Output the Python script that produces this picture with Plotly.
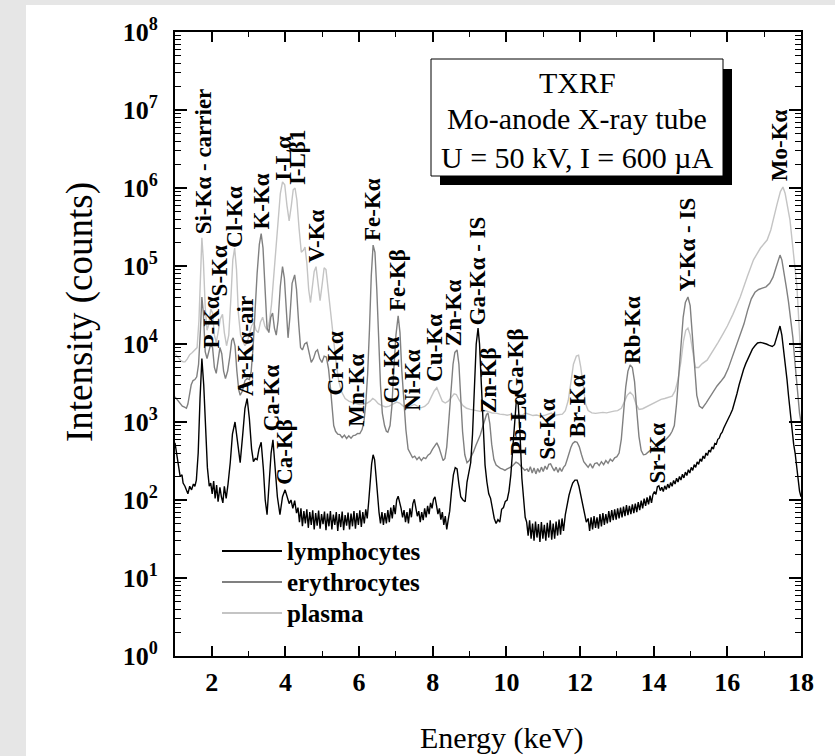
import plotly.graph_objects as go

# ---------------- data (energy keV, counts) ----------------
lymphocytes = [
    (1.00, 540), (1.04, 400), (1.09, 250), (1.14, 200), (1.19, 210), (1.22, 165), (1.27, 150), (1.31, 135),
    (1.35, 120), (1.40, 150), (1.45, 135), (1.50, 160), (1.54, 150), (1.58, 180), (1.63, 400), (1.68, 2000),
    (1.73, 6500), (1.78, 3000), (1.83, 700), (1.88, 260), (1.93, 150), (1.97, 165), (2.01, 120), (2.05, 175),
    (2.09, 105), (2.13, 155), (2.17, 95), (2.22, 145), (2.26, 110), (2.30, 92), (2.34, 150), (2.39, 105),
    (2.44, 160), (2.50, 300), (2.56, 700), (2.63, 1000), (2.69, 600), (2.77, 300), (2.84, 700), (2.90, 1500),
    (2.96, 2000), (3.02, 1100), (3.08, 450), (3.13, 310), (3.18, 340), (3.23, 330), (3.28, 450), (3.34, 550),
    (3.40, 250), (3.45, 100), (3.50, 65), (3.55, 140), (3.61, 400), (3.66, 590), (3.72, 250), (3.78, 110),
    (3.85, 65), (3.92, 110), (3.99, 135), (4.04, 110), (4.10, 90), (4.15, 100), (4.20, 78), (4.25, 98),
    (4.30, 68), (4.34, 80), (4.38, 52), (4.42, 78), (4.46, 46), (4.50, 72), (4.54, 50), (4.58, 76),
    (4.62, 44), (4.66, 70), (4.70, 48), (4.74, 74), (4.78, 42), (4.82, 68), (4.86, 47), (4.90, 73),
    (4.94, 43), (4.98, 66), (5.02, 49), (5.06, 71), (5.10, 41), (5.14, 67), (5.18, 46), (5.22, 72),
    (5.26, 42), (5.30, 65), (5.34, 48), (5.38, 70), (5.42, 40), (5.46, 66), (5.50, 45), (5.54, 71),
    (5.58, 41), (5.62, 64), (5.66, 47), (5.70, 69), (5.74, 42), (5.78, 67), (5.82, 46), (5.86, 72),
    (5.90, 43), (5.94, 68), (5.98, 48), (6.02, 74), (6.06, 45), (6.10, 70), (6.14, 50), (6.18, 76),
    (6.22, 58), (6.26, 95), (6.30, 170), (6.34, 290), (6.38, 380), (6.42, 330), (6.46, 200), (6.50, 110),
    (6.54, 70), (6.58, 50), (6.62, 70), (6.66, 48), (6.70, 68), (6.74, 50), (6.78, 74), (6.82, 52),
    (6.86, 80), (6.90, 58), (6.94, 86), (6.98, 66), (7.02, 100), (7.06, 112), (7.10, 95), (7.14, 78),
    (7.18, 60), (7.22, 74), (7.26, 52), (7.30, 70), (7.34, 50), (7.38, 78), (7.42, 60), (7.46, 90),
    (7.50, 102), (7.54, 80), (7.58, 62), (7.62, 72), (7.66, 52), (7.70, 70), (7.74, 55), (7.78, 78),
    (7.82, 60), (7.86, 84), (7.90, 66), (7.94, 92), (7.98, 78), (8.02, 102), (8.06, 110), (8.10, 86),
    (8.14, 66), (8.18, 78), (8.22, 56), (8.26, 70), (8.30, 48), (8.34, 62), (8.38, 42), (8.42, 56),
    (8.46, 72), (8.51, 130), (8.56, 210), (8.61, 260), (8.66, 250), (8.71, 160), (8.76, 110), (8.82, 100),
    (8.88, 95), (8.93, 170), (8.98, 240), (9.03, 300), (9.08, 700), (9.13, 3000), (9.18, 10000), (9.23, 16000),
    (9.27, 10000), (9.32, 3000), (9.37, 800), (9.42, 280), (9.47, 170), (9.52, 120), (9.57, 105), (9.62, 78),
    (9.67, 58), (9.72, 50), (9.77, 56), (9.82, 52), (9.87, 76), (9.92, 80), (9.97, 96), (10.02, 100),
    (10.07, 130), (10.12, 210), (10.17, 450), (10.22, 1200), (10.27, 1900), (10.32, 1700), (10.37, 700), (10.42, 190),
    (10.47, 85), (10.51, 60), (10.55, 52), (10.59, 35), (10.63, 55), (10.67, 32), (10.71, 50), (10.75, 30),
    (10.79, 53), (10.83, 33), (10.87, 49), (10.91, 29), (10.95, 52), (10.99, 32), (11.03, 48), (11.07, 30),
    (11.11, 51), (11.15, 33), (11.19, 55), (11.23, 31), (11.27, 50), (11.31, 32), (11.35, 53), (11.39, 35),
    (11.43, 56), (11.47, 36), (11.51, 58), (11.55, 40), (11.60, 65), (11.65, 90), (11.70, 115), (11.75, 140),
    (11.80, 165), (11.86, 180), (11.92, 180), (11.97, 150), (12.02, 115), (12.07, 90), (12.12, 70), (12.17, 52),
    (12.22, 58), (12.26, 40), (12.30, 60), (12.34, 42), (12.38, 62), (12.42, 44), (12.46, 60), (12.50, 43),
    (12.54, 66), (12.58, 46), (12.62, 68), (12.66, 48), (12.70, 66), (12.74, 50), (12.78, 72), (12.82, 52),
    (12.86, 74), (12.90, 55), (12.94, 76), (12.98, 56), (13.02, 78), (13.06, 58), (13.10, 80), (13.14, 60),
    (13.18, 82), (13.22, 62), (13.26, 86), (13.30, 64), (13.34, 84), (13.38, 66), (13.42, 88), (13.46, 68),
    (13.50, 90), (13.54, 70), (13.58, 94), (13.62, 74), (13.66, 98), (13.70, 78), (13.74, 104), (13.78, 84),
    (13.82, 108), (13.86, 88), (13.90, 114), (13.94, 92), (13.98, 118), (14.02, 128), (14.06, 118), (14.10, 148),
    (14.14, 152), (14.18, 132), (14.22, 146), (14.26, 128), (14.30, 152), (14.34, 136), (14.38, 160), (14.42, 142),
    (14.46, 168), (14.50, 150), (14.54, 178), (14.58, 160), (14.62, 190), (14.66, 170), (14.70, 200), (14.74, 180),
    (14.78, 214), (14.82, 192), (14.86, 228), (14.90, 206), (14.94, 244), (14.98, 222), (15.02, 262), (15.06, 240),
    (15.10, 284), (15.14, 262), (15.18, 308), (15.22, 286), (15.26, 336), (15.30, 312), (15.34, 366), (15.38, 340),
    (15.42, 400), (15.46, 372), (15.50, 436), (15.54, 410), (15.58, 480), (15.62, 450), (15.66, 530), (15.70, 520),
    (15.74, 600), (15.78, 620), (15.82, 700), (15.86, 740), (15.90, 830), (15.94, 900), (15.98, 1000), (16.02, 1100),
    (16.08, 1250), (16.14, 1450), (16.20, 1800), (16.26, 2300), (16.32, 3000), (16.38, 3800), (16.44, 4700), (16.50, 5600),
    (16.56, 6500), (16.62, 7600), (16.68, 8600), (16.75, 9500), (16.82, 10300), (16.90, 10500), (16.98, 10300), (17.06, 10000),
    (17.14, 9600), (17.22, 9300), (17.28, 9800), (17.33, 12000), (17.38, 15000), (17.43, 17000), (17.48, 13000), (17.53, 8500),
    (17.57, 6200), (17.62, 3500), (17.66, 2200), (17.70, 1430), (17.75, 800), (17.80, 520), (17.84, 400), (17.88, 280),
    (17.92, 180), (17.96, 130), (18.00, 110),
]

erythrocytes = [
    (1.00, 2100), (1.05, 1950), (1.10, 1800), (1.15, 1700), (1.20, 1600), (1.26, 1550), (1.31, 1500), (1.35, 1700),
    (1.39, 2300), (1.44, 3000), (1.49, 3400), (1.54, 3500), (1.59, 3800), (1.64, 5500), (1.69, 15000), (1.73, 40000),
    (1.77, 25000), (1.82, 8000), (1.87, 6500), (1.92, 8000), (1.97, 10000), (2.02, 9000), (2.07, 5000), (2.12, 4200),
    (2.17, 6000), (2.22, 9000), (2.27, 7500), (2.32, 4500), (2.37, 3600), (2.43, 4500), (2.49, 7000), (2.54, 11000),
    (2.58, 12000), (2.63, 9500), (2.68, 4500), (2.73, 2600), (2.77, 2200), (2.83, 2500), (2.90, 3400), (2.96, 3600),
    (3.02, 3500), (3.07, 4500), (3.12, 9000), (3.17, 25000), (3.23, 80000), (3.29, 190000), (3.34, 260000), (3.39, 170000),
    (3.44, 60000), (3.50, 16000), (3.55, 14000), (3.60, 22000), (3.65, 25000), (3.70, 16000), (3.75, 13000), (3.80, 20000),
    (3.86, 55000), (3.92, 98000), (3.97, 70000), (4.02, 25000), (4.07, 12000), (4.12, 22000), (4.18, 60000), (4.25, 77000),
    (4.30, 50000), (4.36, 18000), (4.41, 9000), (4.46, 8400), (4.52, 10000), (4.58, 10500), (4.64, 7500), (4.70, 5800),
    (4.76, 6500), (4.82, 8000), (4.87, 8400), (4.93, 6500), (4.99, 5800), (5.05, 7000), (5.11, 6800), (5.17, 4800),
    (5.22, 2800), (5.27, 1300), (5.31, 900), (5.36, 760), (5.42, 700), (5.48, 690), (5.54, 630), (5.60, 680),
    (5.66, 615), (5.72, 665), (5.78, 620), (5.84, 670), (5.90, 680), (5.96, 715), (6.02, 710), (6.08, 800),
    (6.13, 1000), (6.18, 1700), (6.23, 4000), (6.28, 15000), (6.33, 75000), (6.38, 185000), (6.43, 150000), (6.48, 50000),
    (6.53, 11000), (6.58, 3000), (6.63, 1300), (6.69, 900), (6.74, 760), (6.78, 740), (6.84, 900), (6.89, 1600),
    (6.94, 4500), (7.00, 13000), (7.06, 23000), (7.11, 14000), (7.16, 4500), (7.21, 1800), (7.27, 800), (7.33, 450),
    (7.39, 390), (7.45, 350), (7.51, 365), (7.57, 330), (7.63, 355), (7.69, 320), (7.75, 350), (7.81, 340),
    (7.87, 375), (7.93, 395), (7.99, 445), (8.05, 500), (8.11, 540), (8.17, 470), (8.23, 370), (8.28, 320),
    (8.33, 340), (8.38, 480), (8.44, 1100), (8.50, 2800), (8.55, 5500), (8.60, 7800), (8.66, 8400), (8.71, 5500),
    (8.76, 2200), (8.81, 750), (8.87, 380), (8.93, 300), (8.99, 320), (9.05, 360), (9.11, 420), (9.17, 500),
    (9.23, 580), (9.29, 680), (9.35, 850), (9.41, 1050), (9.46, 1250), (9.50, 1300), (9.55, 950), (9.60, 520),
    (9.66, 330), (9.72, 280), (9.78, 265), (9.84, 255), (9.90, 248), (9.96, 240), (10.02, 250), (10.08, 258),
    (10.14, 268), (10.20, 285), (10.26, 305), (10.32, 295), (10.38, 275), (10.44, 255), (10.50, 240), (10.56, 250),
    (10.60, 230), (10.65, 268), (10.70, 222), (10.75, 258), (10.80, 216), (10.85, 254), (10.90, 226), (10.95, 264),
    (11.00, 232), (11.05, 272), (11.10, 246), (11.15, 286), (11.20, 290), (11.25, 260), (11.30, 236), (11.35, 264),
    (11.40, 226), (11.45, 258), (11.50, 232), (11.55, 262), (11.60, 280), (11.65, 330), (11.70, 400), (11.75, 470),
    (11.80, 530), (11.86, 560), (11.92, 550), (11.98, 480), (12.04, 380), (12.10, 310), (12.16, 285), (12.22, 262),
    (12.28, 292), (12.34, 256), (12.40, 294), (12.46, 300), (12.52, 276), (12.58, 310), (12.64, 284), (12.70, 320),
    (12.76, 296), (12.82, 334), (12.88, 314), (12.94, 348), (13.00, 360), (13.06, 400), (13.12, 600), (13.18, 1300),
    (13.24, 2800), (13.30, 4500), (13.36, 5400), (13.42, 5000), (13.48, 3300), (13.54, 1400), (13.60, 650), (13.66, 430),
    (13.72, 380), (13.78, 385), (13.84, 410), (13.90, 435), (13.96, 455), (14.02, 470), (14.08, 510), (14.14, 550),
    (14.20, 555), (14.26, 560), (14.32, 590), (14.38, 630), (14.44, 680), (14.50, 760), (14.56, 900), (14.62, 1700),
    (14.68, 4000), (14.74, 10000), (14.80, 22000), (14.86, 34000), (14.93, 40000), (14.99, 31000), (15.05, 14000), (15.11, 5000),
    (15.17, 2200), (15.24, 1600), (15.32, 1500), (15.42, 1750), (15.52, 2100), (15.62, 2500), (15.72, 2900), (15.82, 3300),
    (15.92, 3800), (16.02, 4800), (16.12, 6500), (16.22, 8800), (16.35, 12500), (16.45, 18000), (16.55, 27000), (16.65, 38000),
    (16.75, 46000), (16.85, 50000), (16.95, 52000), (17.05, 54000), (17.15, 60000), (17.24, 72000), (17.32, 95000), (17.38, 120000),
    (17.43, 138000), (17.48, 120000), (17.54, 75000), (17.60, 54000), (17.66, 35000), (17.72, 20000), (17.78, 12000), (17.84, 5500),
    (17.90, 2500), (17.96, 1300), (18.00, 1000),
]

plasma = [
    (1.00, 7500), (1.05, 7000), (1.10, 6500), (1.16, 6100), (1.22, 5900), (1.27, 5900), (1.33, 6400), (1.40, 7300),
    (1.47, 7800), (1.54, 8300), (1.60, 9000), (1.65, 20000), (1.69, 80000), (1.73, 230000), (1.77, 120000), (1.82, 30000),
    (1.87, 15000), (1.92, 18000), (1.97, 28000), (2.02, 25000), (2.07, 13000), (2.12, 10500), (2.17, 14000), (2.23, 21000),
    (2.29, 24000), (2.34, 14000), (2.40, 9500), (2.46, 13000), (2.52, 40000), (2.57, 120000), (2.62, 170000), (2.67, 90000),
    (2.72, 25000), (2.78, 13000), (2.84, 11000), (2.90, 9500), (2.96, 10500), (3.02, 14000), (3.08, 17000), (3.14, 19000),
    (3.20, 15000), (3.26, 14000), (3.32, 19000), (3.38, 22000), (3.44, 17000), (3.50, 15000), (3.56, 19000), (3.62, 32000),
    (3.68, 70000), (3.74, 170000), (3.80, 420000), (3.86, 850000), (3.92, 1200000), (3.98, 1100000), (4.04, 600000), (4.10, 380000),
    (4.16, 600000), (4.21, 950000), (4.26, 1000000), (4.31, 700000), (4.37, 300000), (4.43, 150000), (4.49, 160000), (4.53, 175000),
    (4.58, 110000), (4.63, 50000), (4.68, 34000), (4.73, 50000), (4.78, 85000), (4.83, 98000), (4.88, 60000), (4.94, 36000),
    (5.00, 60000), (5.05, 95000), (5.10, 90000), (5.16, 50000), (5.22, 24000), (5.27, 16000), (5.32, 9500), (5.38, 5500),
    (5.45, 3300), (5.53, 2400), (5.62, 2000), (5.72, 1850), (5.82, 1780), (5.92, 1720), (6.02, 1680), (6.12, 1700),
    (6.22, 1750), (6.30, 1850), (6.37, 2000), (6.44, 1900), (6.52, 1720), (6.62, 1620), (6.72, 1560), (6.82, 1600),
    (6.92, 1700), (7.02, 1800), (7.10, 1750), (7.20, 1600), (7.30, 1520), (7.40, 1580), (7.50, 1680), (7.58, 1600),
    (7.68, 1520), (7.78, 1580), (7.88, 1750), (7.96, 2100), (8.04, 2500), (8.11, 2750), (8.18, 2300), (8.26, 1850),
    (8.34, 1750), (8.42, 1850), (8.50, 2050), (8.58, 2300), (8.64, 2250), (8.72, 1900), (8.82, 1620), (8.92, 1500),
    (9.02, 1450), (9.12, 1420), (9.22, 1400), (9.32, 1360), (9.42, 1400), (9.52, 1350), (9.62, 1300), (9.72, 1300),
    (9.82, 1260), (9.92, 1250), (10.02, 1220), (10.12, 1250), (10.22, 1210), (10.32, 1250), (10.42, 1220), (10.52, 1300),
    (10.62, 1250), (10.72, 1210), (10.82, 1230), (10.92, 1190), (11.02, 1210), (11.12, 1260), (11.22, 1300), (11.32, 1220),
    (11.42, 1230), (11.52, 1260), (11.60, 1400), (11.68, 1900), (11.75, 3200), (11.82, 5500), (11.90, 7000), (11.96, 7200),
    (12.02, 5000), (12.08, 2800), (12.15, 1700), (12.22, 1400), (12.32, 1310), (12.42, 1290), (12.52, 1310), (12.62, 1330),
    (12.72, 1310), (12.82, 1350), (12.92, 1380), (13.02, 1400), (13.12, 1500), (13.20, 1800), (13.28, 2200), (13.36, 2400),
    (13.44, 2200), (13.52, 1700), (13.60, 1450), (13.70, 1480), (13.80, 1560), (13.90, 1660), (14.00, 1760), (14.10, 1860),
    (14.20, 1950), (14.30, 2000), (14.40, 2060), (14.50, 2150), (14.58, 2500), (14.66, 3500), (14.74, 6000), (14.81, 11000),
    (14.87, 15000), (14.93, 16000), (14.99, 13000), (15.06, 7500), (15.13, 5000), (15.22, 5000), (15.32, 5600), (15.45, 6200),
    (15.60, 8000), (15.75, 10500), (15.89, 13700), (16.00, 17000), (16.15, 24000), (16.35, 40000), (16.55, 75000), (16.71, 120000),
    (16.90, 170000), (17.08, 215000), (17.18, 290000), (17.26, 400000), (17.35, 620000), (17.44, 900000), (17.51, 1030000), (17.57, 850000),
    (17.64, 560000), (17.70, 390000), (17.78, 170000), (17.84, 90000), (17.89, 54000), (17.94, 20000), (18.00, 6000),
]

series_names = ["lymphocytes", "erythrocytes", "plasma"]
series_colors = ["#000000", "#808080", "#c4c4c4"]

# peak labels: (text, energy keV, log10 intensity at the start of the text)
peak_labels = [
    ("Si-Kα - carrier", 1.76, 5.38), ("P-Kα", 2.00, 3.92), ("S-Kα", 2.22, 4.59), ("Cl-Kα", 2.63, 5.21),
    ("Ar-Kα-air", 2.93, 3.31), ("K-Kα", 3.36, 5.44), ("Ca-Kα", 3.63, 2.86), ("Ca-Kβ", 3.99, 2.17),
    ("I-Lα", 3.96, 6.06), ("I-Lβ1", 4.31, 6.01), ("V-Kα", 4.86, 5.01), ("Cr-Kα", 5.35, 3.31),
    ("Mn-Kα", 5.94, 2.92), ("Fe-Kα", 6.38, 5.29), ("Co-Kα", 6.87, 3.21), ("Fe-Kβ", 7.06, 4.40),
    ("Ni-Kα", 7.44, 3.12), ("Cu-Kα", 8.06, 3.49), ("Zn-Kα", 8.55, 3.94), ("Ga-Kα - IS", 9.20, 4.22),
    ("Zn-Kβ", 9.53, 3.09), ("Pb-Lα", 10.32, 2.54), ("Ga-Kβ", 10.26, 3.32), ("Se-Kα", 11.13, 2.49),
    ("Br-Kα", 11.92, 2.77), ("Rb-Kα", 13.44, 3.72), ("Sr-Kα", 14.09, 2.18), ("Y-Kα - IS", 14.91, 4.65),
    ("Mo-Kα", 17.40, 6.06),
]

info_lines = ["TXRF", "Mo-anode X-ray tube", "U = 50 kV, I = 600 µA"]

x_ticks = [2, 4, 6, 8, 10, 12, 14, 16, 18]
y_exponents = [0, 1, 2, 3, 4, 5, 6, 7, 8]

# ---------------- figure ----------------
SERIF = "Liberation Serif"
W, H = 835, 756
ML, MR, MT, MB = 175, 34, 32, 100
PW, PH = W - ML - MR, H - MT - MB


def px_x(px):
    return (px - ML) / PW


def px_y(py):
    return (H - MB - py) / PH


fig = go.Figure()
series_data = [lymphocytes, erythrocytes, plasma]
for idx in [2, 1, 0]:
    data = series_data[idx]
    fig.add_trace(go.Scatter(
        x=[d[0] for d in data], y=[d[1] for d in data], mode="lines",
        name=series_names[idx], line=dict(color=series_colors[idx], width=1.4),
        showlegend=False, hoverinfo="skip",
    ))

minor_vals = [m * 10 ** e for e in range(0, 8) for m in range(2, 10)]

fig.update_xaxes(
    range=[1, 18], tickmode="array", tickvals=x_ticks, ticktext=["<b>%d</b>" % t for t in x_ticks],
    ticks="inside", ticklen=10, tickwidth=1.5, tickcolor="black",
    minor=dict(tickmode="array", tickvals=[3, 5, 7, 9, 11, 13, 15, 17], ticks="inside", ticklen=5,
               tickwidth=1.3, tickcolor="black", showgrid=False),
    showline=True, linewidth=2, linecolor="black", mirror="allticks",
    showgrid=False, zeroline=False,
    tickfont=dict(family=SERIF, size=26, color="black"),
    ticklabelstandoff=2,
)
fig.update_yaxes(
    type="log", range=[0, 8], tickmode="array", tickvals=[10 ** e for e in y_exponents],
    ticktext=["<b>10<sup>%d</sup></b>" % e for e in y_exponents],
    ticks="inside", ticklen=12, tickwidth=1.5, tickcolor="black",
    minor=dict(tickmode="array", tickvals=minor_vals, ticks="inside", ticklen=6,
               tickwidth=1.3, tickcolor="black", showgrid=False),
    showline=True, linewidth=2, linecolor="black", mirror="allticks",
    showgrid=False, zeroline=False,
    tickfont=dict(family=SERIF, size=26, color="black"),
    ticklabelstandoff=10,
)

shapes = []
# white page panel on light gray surround
shapes.append(dict(type="rect", xref="paper", yref="paper", x0=px_x(26), x1=px_x(W + 5),
                   y0=px_y(H + 5), y1=px_y(5), fillcolor="white", line=dict(width=0), layer="below"))
# info box with drop shadow
shapes.append(dict(type="rect", xref="paper", yref="paper", x0=px_x(440), x1=px_x(732),
                   y0=px_y(185), y1=px_y(69), fillcolor="black", line=dict(width=0)))
shapes.append(dict(type="rect", xref="paper", yref="paper", x0=px_x(431), x1=px_x(723),
                   y0=px_y(176), y1=px_y(59), fillcolor="white", line=dict(width=1, color="black")))

annotations = []
for text, e, lg in peak_labels:
    annotations.append(dict(x=e, y=lg, xref="x", yref="y", text=text, showarrow=False, textangle=-90,
                            xanchor="center", yanchor="bottom",
                            font=dict(family=SERIF, size=23, color="black", weight="bold")))

for line_text, py in zip(info_lines, [82, 119, 158]):
    annotations.append(dict(x=px_x(577), y=px_y(py), xref="paper", yref="paper", text=line_text,
                            showarrow=False, xanchor="center", yanchor="middle",
                            font=dict(family=SERIF, size=30, color="black")))

# legend (drawn as in the original figure)
for name, color, py in zip(series_names, series_colors, [551, 582, 613]):
    shapes.append(dict(type="line", xref="paper", yref="paper", x0=px_x(222), x1=px_x(282),
                       y0=px_y(py), y1=px_y(py), line=dict(color=color, width=2)))
    annotations.append(dict(x=px_x(285), y=px_y(py), xref="paper", yref="paper", text=name,
                            showarrow=False, xanchor="left", yanchor="middle",
                            font=dict(family=SERIF, size=25, color="black", weight="bold")))

# axis titles
annotations.append(dict(x=px_x(502), y=px_y(738), xref="paper", yref="paper", text="Energy (keV)",
                        showarrow=False, xanchor="center", yanchor="middle",
                        font=dict(family=SERIF, size=30, color="black")))
annotations.append(dict(x=px_x(80), y=px_y(312), xref="paper", yref="paper", text="Intensity (counts)",
                        showarrow=False, xanchor="center", yanchor="middle", textangle=-90,
                        font=dict(family=SERIF, size=37, color="black")))

fig.update_layout(
    width=W, height=H,
    margin=dict(l=ML, r=MR, t=MT, b=MB),
    paper_bgcolor="#e6e6e6", plot_bgcolor="white",
    shapes=shapes, annotations=annotations,
    showlegend=False,
)

fig.write_html(
    "out.html",
    config={"displayModeBar": False},
    post_script="document.body.style.margin='0px';document.body.style.backgroundColor='#e6e6e6';",
)
